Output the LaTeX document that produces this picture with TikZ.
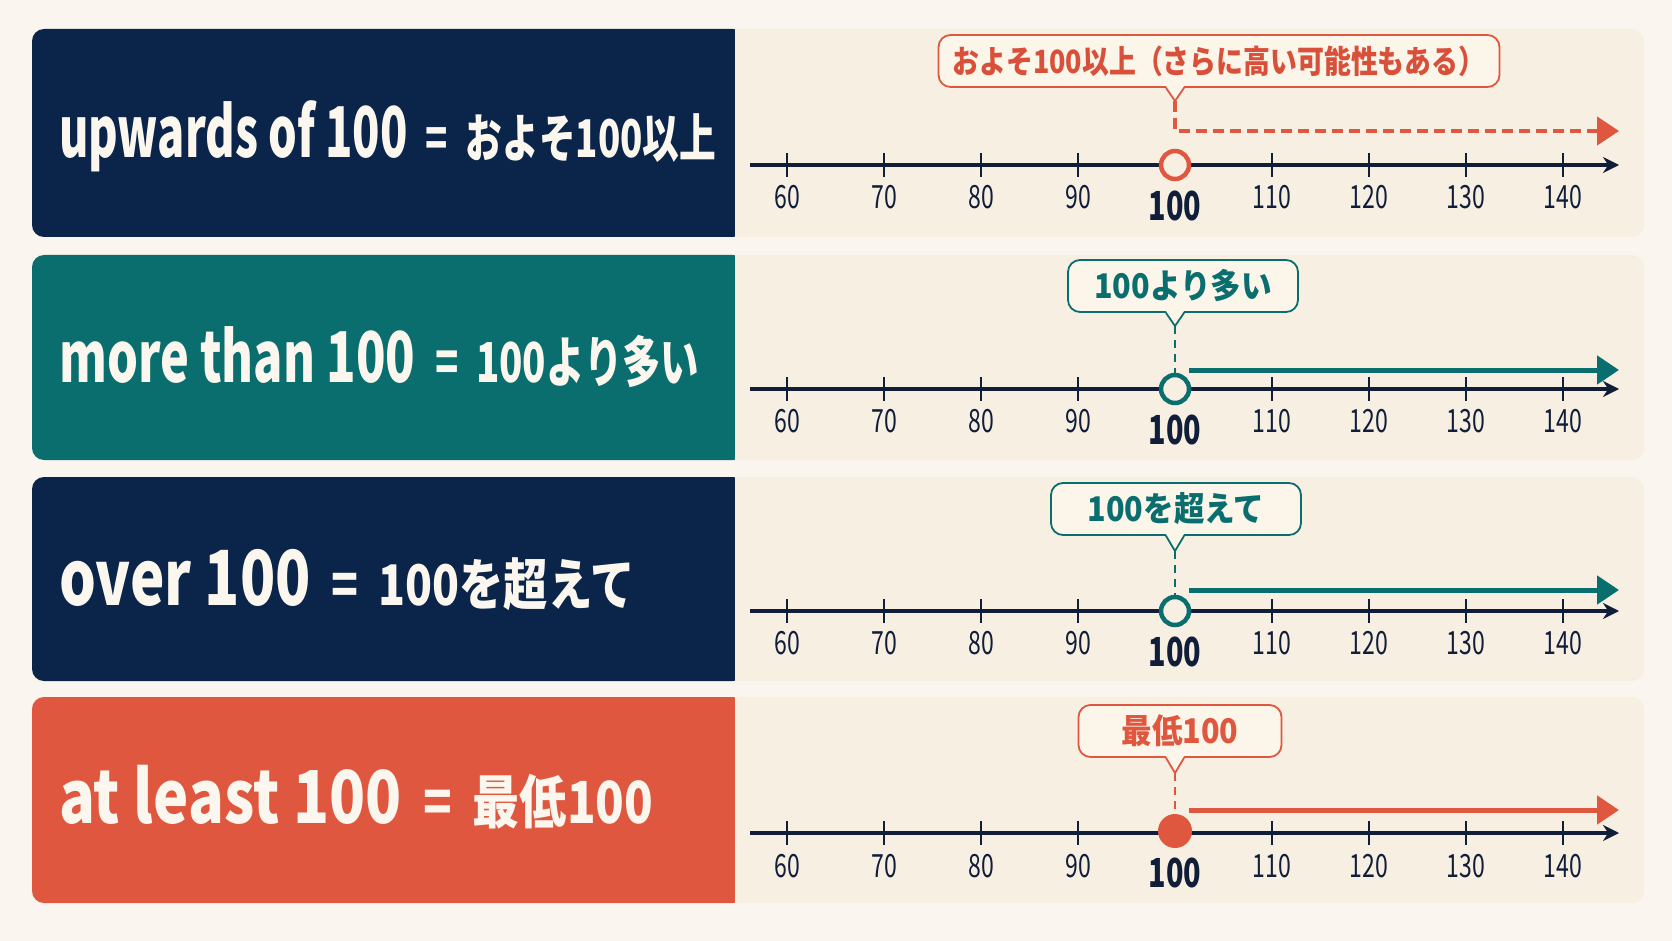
\documentclass[tikz,border=0pt]{standalone}
\usepackage{graphicx}
\usepackage{fontspec}
\setmainfont{Noto Sans CJK JP}
\newfontfamily\jpc{Noto Sans CJK JP}[FakeStretch=0.72]
\newfontfamily\jpn{Noto Sans CJK JP}[FakeStretch=0.84]
\newfontfamily\jpw{Noto Sans CJK JP}[FakeStretch=0.9]
\usetikzlibrary{arrows.meta,calc}
\definecolor{bg}{HTML}{FAF6EF}
\definecolor{panel}{HTML}{F7EFE2}
\definecolor{cfill}{HTML}{FBF5EA}
\definecolor{cnavy}{HTML}{0B2449}
\definecolor{cteal}{HTML}{0B6E6E}
\definecolor{cred}{HTML}{E0573F}
\definecolor{cdred}{HTML}{D9503A}
\definecolor{caxis}{HTML}{111E3A}
\definecolor{ctext}{HTML}{FBF7EF}
\tikzset{
  lefttext/.style={anchor=base west, inner sep=0pt, text=ctext, font=\jpc\bfseries},
  callbox/.style={draw=#1, text=#1, line width=1.8pt, rounded corners=12pt, fill=cfill,
     minimum height=52pt, inner xsep=14pt, font=\jpw\bfseries\fontsize{34}{34}\selectfont},
  ring/.style={circle, draw=#1, line width=4.5pt, fill=panel, minimum size=28pt, inner sep=0pt},
  dot/.style={circle, fill=#1, minimum size=34pt, inner sep=0pt},
  axisline/.style={draw=caxis, line width=3.5pt, -{Stealth[length=16pt,width=16pt]}},
  tickline/.style={draw=caxis, line width=2.5pt},
  ticklab/.style={text=caxis, font=\jpc\fontsize{32}{32}\selectfont, inner sep=0pt},
  hundred/.style={text=caxis, font=\jpc\bfseries\fontsize{40}{40}\selectfont, inner sep=0pt},
  bigarrow/.style={draw=#1, line width=5pt, -{Triangle[length=22pt,width=28pt]}},
  dashvert/.style={draw=#1, line width=2.5pt, dash pattern=on 8pt off 6pt},
}
\newcommand{\numline}[4]{%
  \coordinate (as#1) at (750,#2);
  \coordinate (ae#1) at (1619,#2);
  \draw[axisline] (as#1) -- (ae#1);
  \foreach \v/\x in {60/787,70/884,80/981,90/1078,110/1272,120/1369,130/1466,140/1563}{
    \draw[tickline] (\x,#2-12) -- (\x,#2+12);
    \node[ticklab] (l#1\v) at (\x,#3) {\v};
  }
  \node[hundred] (l#1h) at (1175,#4) {100};
}
\newcommand{\pointer}[3]{%
  \fill[cfill] ($(#1.south -| #2)+(-9,-2)$) -- (#2) -- ($(#1.south -| #2)+(9,-2)$) -- cycle;
  \draw[#3, line width=1.8pt, line join=round] ($(#1.south -| #2)+(-9,0)$) -- (#2) -- ($(#1.south -| #2)+(9,0)$);
}
\begin{document}
\begin{tikzpicture}[x=1pt,y=-1pt]
\useasboundingbox (0,0) rectangle (1672,941);
\fill[bg] (0,0) rectangle (1672,941);

\foreach \t/\b/\c in {29/237/cnavy,255/460/cteal,477/681/cnavy,697/903/cred}{
  \fill[panel, rounded corners=12pt] (725,\t) rectangle (1644,\b);
  \fill[\c, rounded corners=12pt] (32,\t) rectangle (745,\b);
  \fill[panel] (735,\t) rectangle (760,\b);
}

\node[lefttext] (t1) at (59,158) {\scalebox{0.895}[1]{\fontsize{70}{70}\selectfont upwards of 100}\hspace{18pt}\scalebox{0.98}[1]{\fontsize{52}{52}\selectfont =\hspace{18pt}およそ100以上}};
\node[lefttext] (t2) at (59,382) {\scalebox{0.965}[1]{\fontsize{70}{70}\selectfont more than 100}\hspace{20pt}\scalebox{0.97}[1]{\fontsize{55}{55}\selectfont =\hspace{18pt}100より多い}};
\node[lefttext] (t3) at (59,605) {\scalebox{1.06}[1]{\fontsize{76}{76}\selectfont over 100}\hspace{21pt}\scalebox{1.1}[1]{\fontsize{56}{56}\selectfont =\hspace{18pt}100を超えて}};
\node[lefttext] (t4) at (59,823) {\scalebox{1.13}[1]{\fontsize{73}{73}\selectfont at least 100}\hspace{22pt}\scalebox{1.13}[1]{\fontsize{58}{58}\selectfont =\hspace{18pt}最低100}};

% ---------- row 1 ----------
\numline{1}{165}{197}{206}
\node[ring=cred] (p1) at (1175,165) {};
\node[callbox=cred, text=cdred, minimum width=560pt, font=\jpn\bfseries\fontsize{32}{32}\selectfont] (c1) at (1219,61) {およそ100以上（さらに高い可能性もある）};
\coordinate (tip1) at (1175,101);
\pointer{c1}{tip1}{cred}
\coordinate (k1) at (1175,131);
\coordinate (e1) at (1619,131);
\draw[cred, line width=4.5pt, dash pattern=on 11pt off 6pt, -{Triangle[length=22pt,width=28pt]}] (tip1) -- (k1) -- (e1);

% ---------- row 2 ----------
\numline{2}{389}{421}{430}
\node[ring=cteal] (p2) at (1175,389) {};
\node[callbox=cteal, minimum width=230pt] (c2) at (1183,286) {100より多い};
\coordinate (tip2) at (1175,326);
\pointer{c2}{tip2}{cteal}
\draw[dashvert=cteal] (tip2) -- (p2.north);
\coordinate (s2) at (1189,370);
\coordinate (e2) at (1619,370);
\draw[bigarrow=cteal] (s2) -- (e2);

% ---------- row 3 ----------
\numline{3}{611}{643}{652}
\node[ring=cteal] (p3) at (1175,611) {};
\node[callbox=cteal, minimum width=250pt] (c3) at (1176,509) {100を超えて};
\coordinate (tip3) at (1175,551);
\pointer{c3}{tip3}{cteal}
\draw[dashvert=cteal] (tip3) -- (p3.north);
\coordinate (s3) at (1189,590);
\coordinate (e3) at (1619,590);
\draw[bigarrow=cteal] (s3) -- (e3);

% ---------- row 4 ----------
\numline{4}{833}{866}{873}
\node[dot=cred] (p4) at (1175,831) {};
\node[callbox=cred, minimum width=203pt] (c4) at (1180,731) {最低100};
\coordinate (tip4) at (1175,773);
\pointer{c4}{tip4}{cred}
\draw[dashvert=cred] (tip4) -- (p4.north);
\coordinate (s4) at (1189,810);
\coordinate (e4) at (1619,810);
\draw[bigarrow=cred] (s4) -- (e4);
\end{tikzpicture}
\end{document}
